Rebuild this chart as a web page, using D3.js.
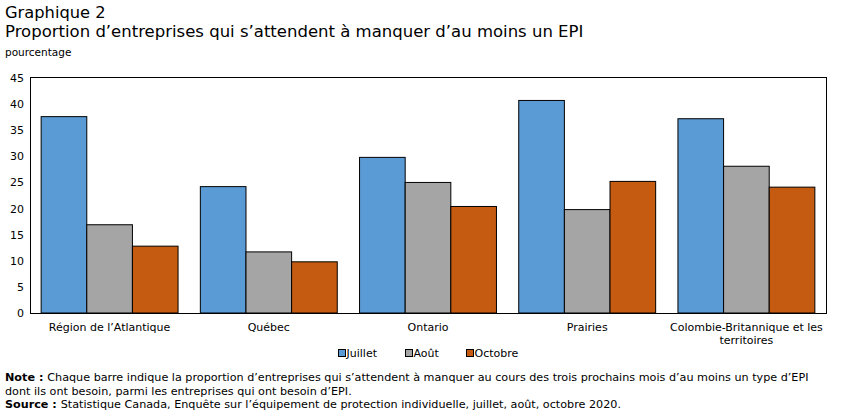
<!DOCTYPE html>
<html><head><meta charset="utf-8">
<script src="https://cdn.jsdelivr.net/npm/d3@7"></script>
<style>
body{margin:0;background:#fff;}
svg{font-family:"DejaVu Sans",Verdana,sans-serif;}
</style></head>
<body><svg id="c" width="847" height="417"></svg>
<script>
const categories = ["Région de l’Atlantique","Québec","Ontario","Prairies","Colombie-Britannique et les territoires"];
const seriesNames = ["Juillet","Août","Octobre"];
const juillet = [37.6, 24.2, 29.8, 40.7, 37.2];
const aout = [16.9, 11.7, 25.0, 19.8, 28.1];
const octobre = [12.8, 9.8, 20.4, 25.2, 24.1];
const colors = ["#5b9bd5","#a5a5a5","#c55a11"];
const yTicks = [0,5,10,15,20,25,30,35,40,45];

const series = [juillet, aout, octobre];
const svg = d3.select("#c");
const m = {l:30, r:826, t:78, b:313};
const x0 = d3.scaleBand().domain(categories).range([m.l, m.r]).paddingInner(0.14).paddingOuter(0.07);
const x1 = d3.scaleBand().domain(seriesNames).range([0, x0.bandwidth()]);
const y = d3.scaleLinear().domain([0,45]).range([m.b, m.t]);

// titles
svg.append("text").attr("x",5).attr("y",18).attr("font-size",16.3).text("Graphique 2");
svg.append("text").attr("x",5).attr("y",37).attr("font-size",16.5).text("Proportion d’entreprises qui s’attendent à manquer d’au moins un EPI");
svg.append("text").attr("x",5).attr("y",56).attr("font-size",10.5).text("pourcentage");

// y axis labels
const yAxis = d3.axisLeft(y).tickValues(yTicks).tickSize(0).tickPadding(6);
const ga = svg.append("g").attr("transform",`translate(${m.l},0)`).call(yAxis);
ga.select(".domain").remove();
ga.selectAll("text").attr("font-size",11).attr("font-family","DejaVu Sans, Verdana, sans-serif").attr("fill","#000");

// bars
seriesNames.forEach((s,i)=>{
  svg.append("g").selectAll("rect").data(series[i]).join("rect")
    .attr("x",(d,j)=>x0(categories[j])+x1(s))
    .attr("y",d=>y(d))
    .attr("width",x1.bandwidth())
    .attr("height",d=>y(0)-y(d))
    .attr("fill",colors[i]).attr("stroke","#000").attr("stroke-width",1);
});

// frame
svg.append("rect").attr("x",m.l+0.5).attr("y",m.t-0.5).attr("width",m.r-m.l).attr("height",m.b-m.t+1)
  .attr("fill","none").attr("stroke","#000").attr("stroke-width",1);

// x axis labels
const xAxis = d3.axisBottom(x0).tickSize(0).tickPadding(10);
const gx = svg.append("g").attr("transform",`translate(0,${m.b})`).call(xAxis);
gx.select(".domain").remove();
gx.selectAll("text").attr("font-size",11).attr("font-family","DejaVu Sans, Verdana, sans-serif").attr("fill","#000")
  .each(function(d){
    if(d.startsWith("Colombie")){
      const t=d3.select(this); t.text(null);
      t.append("tspan").attr("x",0).attr("dy","0.71em").text("Colombie-Britannique et les");
      t.append("tspan").attr("x",0).attr("dy","1.2em").text("territoires");
    }
  });

// legend
const legX = [338, 405, 466];
seriesNames.forEach((s,i)=>{
  const g = svg.append("g").attr("transform",`translate(${legX[i]},349)`);
  g.append("rect").attr("x",0.5).attr("y",0.5).attr("width",7).attr("height",7).attr("fill",colors[i]).attr("stroke","#000").attr("stroke-width",1);
  g.append("text").attr("x",8.5).attr("y",8).attr("font-size",11).text(s);
});

// notes
const n1 = svg.append("text").attr("x",5).attr("y",381).attr("font-size",11.2);
n1.append("tspan").attr("font-weight","bold").text("Note : ");
n1.append("tspan").text("Chaque barre indique la proportion d’entreprises qui s’attendent à manquer au cours des trois prochains mois d’au moins un type d’EPI");
svg.append("text").attr("x",5).attr("y",395).attr("font-size",11.2).text("dont ils ont besoin, parmi les entreprises qui ont besoin d’EPI.");
const n3 = svg.append("text").attr("x",5).attr("y",408).attr("font-size",11.2);
n3.append("tspan").attr("font-weight","bold").text("Source : ");
n3.append("tspan").text("Statistique Canada, Enquête sur l’équipement de protection individuelle, juillet, août, octobre 2020.");
</script></body></html>
